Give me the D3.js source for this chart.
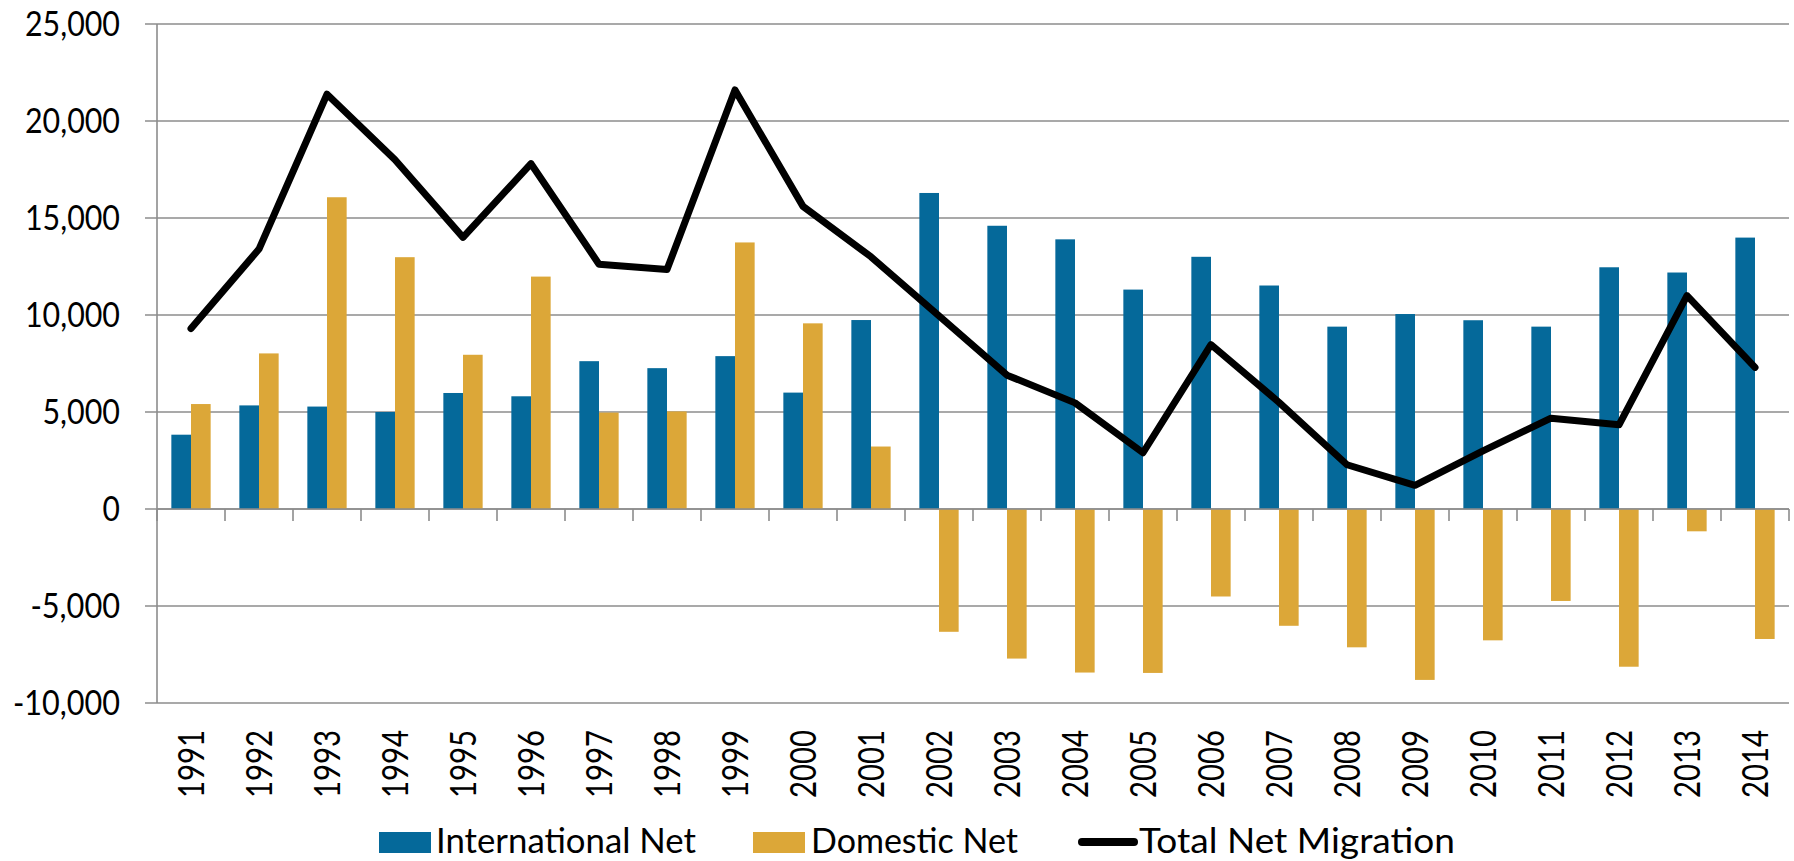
<!DOCTYPE html>
<html><head><meta charset="utf-8">
<script src="https://cdn.jsdelivr.net/npm/d3@7"></script>
<style>body{margin:0;background:#fff} svg{display:block}</style>
</head><body><svg id="chart" width="1794" height="861"></svg>
<script>
const years = ["1991","1992","1993","1994","1995","1996","1997","1998","1999","2000","2001","2002","2003","2004","2005","2006","2007","2008","2009","2010","2011","2012","2013","2014"];
const international = [3830,5340,5280,5000,5980,5810,7620,7260,7880,6000,9740,16290,14600,13900,11310,13000,11520,9400,10050,9730,9400,12460,12190,13990];
const domestic = [5410,8020,16070,12980,7950,11980,4970,5030,13740,9570,3220,-6330,-7710,-8430,-8450,-4510,-6020,-7130,-8810,-6770,-4740,-8130,-1150,-6700];
const total = [9300,13400,21380,18000,14000,17800,12620,12340,21600,15600,13000,9960,6900,5470,2900,8470,5500,2280,1220,3000,4680,4340,11000,7300];
const yTicks = [-10000,-5000,0,5000,10000,15000,20000,25000];
const seriesNames = ["International Net","Domestic Net","Total Net Migration"];
const colors = {intl:"#05699a", dom:"#dca738", total:"#000000"};

const m = {left:157, right:1789, top:24, bottom:703};
const svg = d3.select("#chart");
const font = "Lato, 'Open Sans', sans-serif";
const gridColor = "#8c8c8c";

const x0 = d3.scaleBand().domain(years).range([m.left, m.right]).padding(0);
const x1 = d3.scaleBand().domain(["intl","dom"]).range([0, x0.bandwidth()]).paddingInner(0).paddingOuter(0.73);
const y = d3.scaleLinear().domain([-10000, 25000]).range([m.bottom, m.top]);
const fmt = v => d3.format(",")(v).replace("\u2212", "-");
// approximate label widths of the original (narrow humanist face)
const labelWidth = s => {
  let w = 0;
  for (const c of s) w += (c === ",") ? 8 : (c === "-") ? 12 : 17.4;
  return w;
};

// gridlines + y labels
const gy = svg.append("g");
gy.selectAll("line.grid").data(yTicks).join("line")
  .attr("x1", m.left - 12).attr("x2", m.right)
  .attr("y1", d => y(d)).attr("y2", d => y(d))
  .attr("stroke", gridColor).attr("stroke-width", 1.6);
gy.selectAll("text").data(yTicks).join("text")
  .attr("x", 120).attr("y", d => y(d)).attr("dy", "0.36em")
  .attr("text-anchor", "end").attr("font-family", font).attr("font-size", 34)
  .attr("textLength", d => labelWidth(fmt(d))).attr("lengthAdjust", "spacingAndGlyphs")
  .attr("fill", "#000").text(d => fmt(d));
// y axis line
svg.append("line").attr("x1", m.left).attr("x2", m.left).attr("y1", m.top).attr("y2", m.bottom)
  .attr("stroke", gridColor).attr("stroke-width", 1.6);

// bars
const rows = years.map((yr, i) => ({yr, intl: international[i], dom: domestic[i], total: total[i]}));
const bars = svg.append("g");
["intl","dom"].forEach(k => {
  bars.selectAll("rect." + k).data(rows).join("rect")
    .attr("class", k)
    .attr("x", d => x0(d.yr) + x1(k))
    .attr("width", x1.bandwidth())
    .attr("y", d => y(Math.max(0, d[k])))
    .attr("height", d => Math.abs(y(d[k]) - y(0)))
    .attr("fill", colors[k]);
});

// x axis line at zero with ticks
const gx = svg.append("g");
gx.append("line").attr("x1", m.left).attr("x2", m.right).attr("y1", y(0)).attr("y2", y(0))
  .attr("stroke", gridColor).attr("stroke-width", 1.6);
const tickXs = years.map(d => x0(d)).concat([m.right]);
gx.selectAll("line.tick").data(tickXs).join("line")
  .attr("x1", d => d).attr("x2", d => d)
  .attr("y1", y(0)).attr("y2", y(0) + 12)
  .attr("stroke", gridColor).attr("stroke-width", 1.6);

// year labels
svg.append("g").selectAll("text").data(years).join("text")
  .attr("transform", d => `translate(${x0(d) + x0.bandwidth()/2},730) rotate(-90)`)
  .attr("dy", "0.36em").attr("text-anchor", "end")
  .attr("font-family", font).attr("font-size", 36).attr("fill", "#000")
  .attr("textLength", 68).attr("lengthAdjust", "spacingAndGlyphs")
  .text(d => d);

// total line
const line = d3.line().x(d => x0(d.yr) + x0.bandwidth()/2).y(d => y(d.total));
svg.append("path").datum(rows).attr("d", line)
  .attr("fill", "none").attr("stroke", colors.total).attr("stroke-width", 7)
  .attr("stroke-linejoin", "round").attr("stroke-linecap", "round");

// legend
const lg = svg.append("g").attr("font-family", font).attr("font-size", 34);
lg.append("rect").attr("x", 379).attr("y", 832).attr("width", 52).attr("height", 21).attr("fill", colors.intl);
lg.append("text").attr("x", 436).attr("y", 853).attr("textLength", 260).attr("lengthAdjust", "spacingAndGlyphs").text(seriesNames[0]);
lg.append("rect").attr("x", 753).attr("y", 832).attr("width", 52).attr("height", 21).attr("fill", colors.dom);
lg.append("text").attr("x", 811).attr("y", 853).attr("textLength", 207).attr("lengthAdjust", "spacingAndGlyphs").text(seriesNames[1]);
lg.append("line").attr("x1", 1082).attr("x2", 1134).attr("y1", 842).attr("y2", 842)
  .attr("stroke", colors.total).attr("stroke-width", 8).attr("stroke-linecap", "round");
lg.append("text").attr("x", 1139).attr("y", 853).attr("textLength", 316).attr("lengthAdjust", "spacingAndGlyphs").text(seriesNames[2]);
</script>
</body></html>
